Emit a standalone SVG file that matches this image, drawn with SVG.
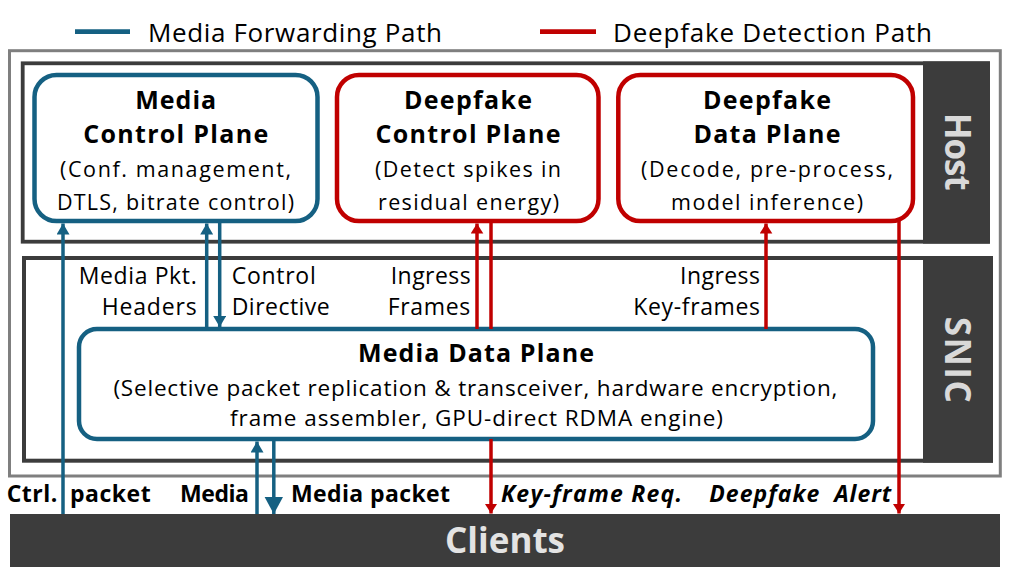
<svg xmlns="http://www.w3.org/2000/svg" width="1012" height="580" viewBox="0 0 1012 580">
<style>
text{font-family:"Open Sans","Liberation Sans",Arial,sans-serif;fill:#000}
.ttl{font-size:25px;font-weight:bold;text-anchor:middle}
.sub{font-size:21.5px;text-anchor:middle}
.msub{font-size:22.5px;text-anchor:middle}
.lbl{font-size:23px}
.bot{font-size:23px;font-weight:bold}
.side{font-size:35px;font-weight:bold;fill:#d9d9d9;text-anchor:middle}
.cli{font-size:35px;font-weight:bold;fill:#e3e3e3;text-anchor:middle}
.bnode{fill:#fff;stroke:#156082;stroke-width:4.5}
.rnode{fill:#fff;stroke:#c00000;stroke-width:4.5}
.bl{fill:none;stroke:#156082;stroke-width:3.5}
.rl{fill:none;stroke:#c00000;stroke-width:3.5}
</style>
<defs>
<marker id="ab" markerUnits="userSpaceOnUse" markerWidth="12" markerHeight="13" refX="11" refY="6.5" orient="auto" viewBox="0 0 12 13"><path d="M0,0 L11,6.5 L0,13 z" fill="#156082"/></marker>
<marker id="abig" markerUnits="userSpaceOnUse" markerWidth="18" markerHeight="19" refX="17" refY="9.2" orient="auto" viewBox="0 0 18 19"><path d="M0,0 L17,9.2 L0,18.4 z" fill="#156082"/></marker>
<marker id="ar" markerUnits="userSpaceOnUse" markerWidth="11" markerHeight="13" refX="10" refY="6.3" orient="auto" viewBox="0 0 11 13"><path d="M0,0 L10,6.3 L0,12.6 z" fill="#c00000"/></marker>
</defs>

<g id="legend">
<line x1="75" y1="31.7" x2="130" y2="31.7" stroke="#156082" stroke-width="4.7"/>
<text x="148" y="41.5" font-size="26" textLength="294">Media Forwarding Path</text>
<line x1="540" y1="31.7" x2="596" y2="31.7" stroke="#c00000" stroke-width="4.7"/>
<text x="613" y="41.5" font-size="26" textLength="319">Deepfake Detection Path</text>
</g>

<g id="server">
<rect x="9.5" y="50.7" width="990.8" height="425.3" fill="none" stroke="#7f7f7f" stroke-width="3"/>
</g>

<g id="host">
<rect x="22.7" y="63.3" width="965.3" height="178.4" fill="#fff" stroke="#3c3c3c" stroke-width="3.8"/>
<rect x="923" y="61.4" width="67" height="182.2" fill="#3c3c3c"/>
<text class="side" transform="translate(944.5,151.7) rotate(90)" x="0" y="0" textLength="78">Host</text>
</g>

<g id="snic">
<rect x="24" y="258" width="967" height="202.7" fill="#fff" stroke="#3c3c3c" stroke-width="4"/>
<rect x="923" y="256" width="70" height="206.7" fill="#3c3c3c"/>
<text class="side" transform="translate(944.5,359.7) rotate(90)" x="0" y="0" textLength="86">SNIC</text>
</g>

<g id="clients">
<rect x="10" y="514" width="990" height="53" fill="#3c3c3c"/>
<text class="cli" x="505" y="553.3" textLength="120">Clients</text>
</g>

<g id="media-control-plane">
<rect class="bnode" x="34.5" y="75" width="283" height="146" rx="22"/>
<text class="ttl" x="175.7" y="109" textLength="81">Media</text>
<text class="ttl" x="175.7" y="143" textLength="185">Control Plane</text>
<text class="sub" x="175.5" y="177" textLength="231">(Conf. management,</text>
<text class="sub" x="175.5" y="209.5" textLength="237">DTLS, bitrate control)</text>
</g>

<g id="deepfake-control-plane">
<rect class="rnode" x="337" y="75" width="261.5" height="146" rx="22"/>
<text class="ttl" x="468" y="109" textLength="128">Deepfake</text>
<text class="ttl" x="468" y="143" textLength="185">Control Plane</text>
<text class="sub" x="468" y="177" textLength="186">(Detect spikes in</text>
<text class="sub" x="468.5" y="209.5" textLength="181">residual energy)</text>
</g>

<g id="deepfake-data-plane">
<rect class="rnode" x="618.3" y="75" width="294.7" height="146" rx="22"/>
<text class="ttl" x="767" y="109" textLength="128">Deepfake</text>
<text class="ttl" x="767" y="143" textLength="147">Data Plane</text>
<text class="sub" x="767" y="177" textLength="252">(Decode, pre-process,</text>
<text class="sub" x="767" y="209.5" textLength="192">model inference)</text>
</g>

<g id="media-data-plane">
<rect class="bnode" x="79" y="329" width="794" height="110" rx="18" stroke-width="5"/>
<text class="ttl" x="476" y="362" font-size="24" textLength="236">Media Data Plane</text>
<text class="msub" x="475.4" y="396" textLength="724">(Selective packet replication &amp; transceiver, hardware encryption,</text>
<text class="msub" x="476.5" y="426.3" textLength="493">frame assembler, GPU-direct RDMA engine)</text>
</g>

<g id="connectors">
<path class="bl" d="M63,514 V223.5" marker-end="url(#ab)"/>
<path class="bl" d="M206.7,329 V223.5" marker-end="url(#ab)"/>
<path class="bl" d="M219.7,221 V327" marker-end="url(#ab)"/>
<path class="bl" d="M257,514 V441.5" marker-end="url(#ab)"/>
<path class="bl" d="M273.8,439 V514" stroke-width="5.5" marker-end="url(#abig)"/>
<path class="rl" d="M477,329 V223.5" marker-end="url(#ar)"/>
<path class="rl" d="M491,221 V329"/>
<path class="rl" d="M491,439 V513.5" marker-end="url(#ar)"/>
<path class="rl" d="M766,329 V223.5" marker-end="url(#ar)"/>
<path class="rl" d="M899,220 V513.5" marker-end="url(#ar)"/>
</g>

<g id="connector-labels">
<text class="lbl" x="196.7" y="284.3" text-anchor="end" textLength="118">Media Pkt.</text>
<text class="lbl" x="196.7" y="315" text-anchor="end" textLength="95">Headers</text>
<text class="lbl" x="231.7" y="284.3" textLength="84">Control</text>
<text class="lbl" x="231.7" y="315" textLength="98">Directive</text>
<text class="lbl" x="470.7" y="284.3" text-anchor="end" textLength="80">Ingress</text>
<text class="lbl" x="470.3" y="315" text-anchor="end" textLength="82.6">Frames</text>
<text class="lbl" x="760" y="284.3" text-anchor="end" textLength="80">Ingress</text>
<text class="lbl" x="760" y="315" text-anchor="end" textLength="126.7">Key-frames</text>
<text class="bot" y="501.7"><tspan x="6.7" textLength="50.6">Ctrl.</tspan><tspan x="70" textLength="80.7">packet</tspan></text>
<text class="bot" x="180" y="501.7" textLength="69">Media</text>
<text class="bot" x="291" y="501.7" textLength="159">Media packet</text>
<text class="bot" x="501" y="501.7" font-style="italic" textLength="181">Key-frame Req.</text>
<text class="bot" x="709.3" y="501.7" font-style="italic" textLength="182" xml:space="preserve">Deepfake  Alert</text>
</g>
</svg>
